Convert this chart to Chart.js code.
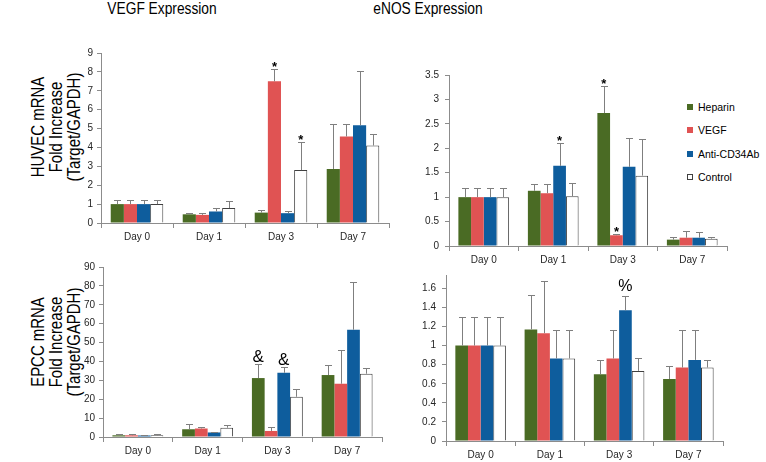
<!DOCTYPE html>
<html><head><meta charset="utf-8">
<script src="https://cdn.jsdelivr.net/npm/chart.js@4"></script>
<style>
html,body{margin:0;padding:0;background:#fff;overflow:hidden;width:766px;height:462px;position:relative;}
canvas{position:absolute;}
.t{position:absolute;font-family:'Liberation Sans',Arial,sans-serif;color:#000;white-space:nowrap;}
.title{font-size:16px;line-height:18px;top:0;transform:translateX(-50%) scaleX(0.86);}
.ylab{font-size:18px;line-height:18px;width:200px;text-align:center;transform:translate(-50%,-50%) rotate(-90deg) scaleX(0.83);}
.leg{position:absolute;font-family:'Liberation Sans',Arial,sans-serif;font-size:10.5px;color:#000;line-height:12px;}
.leg span{display:inline-block;width:6px;height:6px;margin-right:5px;vertical-align:1px;box-sizing:border-box;}
</style>
</head><body>
<div class="t title" style="left:162px">VEGF Expression</div>
<div class="t title" style="left:428px">eNOS Expression</div>
<div class="t ylab" style="left:56px;top:127px">HUVEC mRNA<br>Fold Increase<br>(Target/GAPDH)</div>
<div class="t ylab" style="left:56px;top:342px">EPCC mRNA<br>Fold Increase<br>(Target/GAPDH)</div>
<div id="legend"></div>
<canvas id="c1" width="345" height="213" style="left:55px;top:40px"></canvas>
<canvas id="c2" width="360" height="216" style="left:405px;top:60px"></canvas>
<canvas id="c3" width="340" height="207" style="left:55px;top:255px"></canvas>
<canvas id="c4" width="360" height="200" style="left:405px;top:262px"></canvas>
<script>
// ---- data ----
const categories = ['Day 0', 'Day 1', 'Day 3', 'Day 7'];
const seriesNames = ['Heparin', 'VEGF', 'Anti-CD34Ab', 'Control'];

// HUVEC mRNA - VEGF expression
const huvecVegfHeparin    = [1.0, 0.46, 0.55, 2.86];
const huvecVegfHeparinErr = [1.22, 0.54, 0.70, 5.23];
const huvecVegfVegf       = [1.0, 0.43, 7.50, 4.58];
const huvecVegfVegfErr    = [1.22, 0.54, 8.15, 5.23];
const huvecVegfAnti       = [1.0, 0.61, 0.52, 5.17];
const huvecVegfAntiErr    = [1.22, 0.80, 0.61, 8.03];
const huvecVegfControl    = [1.0, 0.79, 2.80, 4.10];
const huvecVegfControlErr = [1.22, 1.19, 4.28, 4.70];

// HUVEC mRNA - eNOS expression
const huvecEnosHeparin    = [1.0, 1.13, 2.72, 0.13];
const huvecEnosHeparinErr = [1.19, 1.26, 3.27, 0.19];
const huvecEnosVegf       = [1.0, 1.08, 0.22, 0.17];
const huvecEnosVegfErr    = [1.19, 1.26, 0.25, 0.30];
const huvecEnosAnti       = [1.0, 1.64, 1.62, 0.17];
const huvecEnosAntiErr    = [1.19, 2.11, 2.22, 0.29];
const huvecEnosControl    = [1.0, 1.02, 1.44, 0.15];
const huvecEnosControlErr = [1.19, 1.28, 2.20, 0.18];

// EPCC mRNA - VEGF expression
const epccVegfHeparin    = [0.9, 4.1, 31.2, 32.8];
const epccVegfHeparinErr = [1.4, 6.7, 38.6, 38.1];
const epccVegfVegf       = [0.9, 4.5, 3.2, 28.2];
const epccVegfVegfErr    = [1.4, 5.5, 5.3, 45.9];
const epccVegfAnti       = [0.8, 2.4, 34.0, 56.8];
const epccVegfAntiErr    = [1.3, 2.6, 37.2, 82.0];
const epccVegfControl    = [0.9, 4.9, 21.3, 33.5];
const epccVegfControlErr = [1.4, 6.2, 25.4, 36.5];

// EPCC mRNA - eNOS expression
const epccEnosHeparin    = [1.0, 1.17, 0.70, 0.65];
const epccEnosHeparinErr = [1.30, 1.53, 0.85, 0.785];
const epccEnosVegf       = [1.0, 1.13, 0.865, 0.77];
const epccEnosVegfErr    = [1.30, 1.68, 1.16, 1.16];
const epccEnosAnti       = [1.0, 0.865, 1.37, 0.85];
const epccEnosAntiErr    = [1.30, 1.16, 1.52, 1.16];
const epccEnosControl    = [1.0, 0.865, 0.735, 0.77];
const epccEnosControlErr = [1.30, 1.165, 0.87, 0.845];

// significance marks: [series index, category index, symbol]
const marksHuvecVegf = [[1, 2, '*'], [3, 2, '*']];
const marksHuvecEnos = [[2, 1, '*'], [0, 2, '*'], [1, 2, '*']];
const marksEpccVegf  = [[0, 2, '&'], [2, 2, '&']];
const marksEpccEnos  = [[2, 2, '%']];

// y-axis ticks
const ticksHuvecVegf = {max: 9, step: 1};
const ticksHuvecEnos = {max: 3.5, step: 0.5};
const ticksEpccVegf  = {max: 90, step: 10};
const ticksEpccEnos  = {max: 1.74, step: 0.2};

// ---- styles ----
const fills   = ['#4A6B24', '#E05353', '#0E5D9D', '#FFFFFF'];
const borders = ['#4A6B24', '#E05353', '#0E5D9D', '#404040'];
const FONT = "'Liberation Sans', Arial, sans-serif";

const errPlugin = {
  id: 'errbars',
  afterDatasetsDraw(chart) {
    const ctx = chart.ctx, ys = chart.scales.y;
    ctx.save();
    ctx.strokeStyle = '#7F7F7F';
    ctx.lineWidth = 1;
    chart.data.datasets.forEach((ds, di) => {
      const meta = chart.getDatasetMeta(di);
      ds.errTop.forEach((e, i) => {
        const bar = meta.data[i];
        const x = Math.round(bar.x) + 0.5;
        const y0 = ys.getPixelForValue(ds.data[i]);
        const y1 = Math.round(ys.getPixelForValue(e)) + 0.5;
        ctx.beginPath();
        ctx.moveTo(x, y0); ctx.lineTo(x, y1);
        ctx.moveTo(x - 3.5, y1); ctx.lineTo(x + 3.5, y1);
        ctx.stroke();
      });
    });
    const marks = chart.options.plugins.errbars.marks || [];
    ctx.fillStyle = '#000';
    ctx.textAlign = 'center';
    ctx.textBaseline = 'alphabetic';
    marks.forEach(([di, ci, sym]) => {
      const ds = chart.data.datasets[di];
      const bar = chart.getDatasetMeta(di).data[ci];
      const yTop = ys.getPixelForValue(ds.errTop[ci]);
      if (sym === '*') { ctx.font = 'bold 13px ' + FONT; ctx.fillText(sym, bar.x, yTop + 2); }
      else if (sym === '&') { ctx.font = '17px ' + FONT; ctx.fillText(sym, bar.x, yTop - 2); }
      else { ctx.font = '16px ' + FONT; ctx.fillText(sym, bar.x, yTop - 5); }
    });
    ctx.restore();
  }
};

function fmt(v) { return String(+v.toFixed(2)); }

function makeChart(id, series, errs, marks, tk, layout) {
  const datasets = series.map((d, k) => ({
    label: seriesNames[k],
    data: d,
    errTop: errs[k],
    backgroundColor: fills[k],
    borderColor: borders[k],
    borderWidth: k === 3 ? 1 : 0,
    categoryPercentage: 0.73,
    barPercentage: 1.0
  }));
  return new Chart(document.getElementById(id), {
    type: 'bar',
    data: {labels: categories, datasets},
    plugins: [errPlugin],
    options: {
      responsive: false, animation: false, devicePixelRatio: 1,
      layout: {padding: layout.pad},
      plugins: {legend: {display: false}, tooltip: {enabled: false}, errbars: {marks}},
      scales: {
        x: {
          type: 'category', offset: true,
          grid: {offset: true, drawOnChartArea: false, tickLength: 5, color: '#8C8C8C'},
          border: {color: '#8C8C8C'},
          ticks: {padding: 3, font: {family: FONT, size: 10}, color: '#262626', maxRotation: 0},
          afterFit: s => { s.height = layout.xh; }
        },
        y: {
          min: 0, max: tk.max,
          grid: {drawOnChartArea: false, tickLength: 4, color: '#8C8C8C'},
          border: {color: '#8C8C8C'},
          ticks: {stepSize: tk.step, padding: layout.yp, font: {family: FONT, size: 10}, color: '#262626', callback: v => fmt(v)},
          afterBuildTicks: s => {
            s.ticks = s.ticks.filter(t => Math.abs(t.value / tk.step - Math.round(t.value / tk.step)) < 1e-6);
          },
          afterFit: s => { s.width = layout.yw; }
        }
      }
    }
  });
}

makeChart('c1',
  [huvecVegfHeparin, huvecVegfVegf, huvecVegfAnti, huvecVegfControl],
  [huvecVegfHeparinErr, huvecVegfVegfErr, huvecVegfAntiErr, huvecVegfControlErr],
  marksHuvecVegf, ticksHuvecVegf,
  {pad: {top: 13, right: 11, left: 0, bottom: 0}, xh: 30, yw: 46, yp: 4});

makeChart('c2',
  [huvecEnosHeparin, huvecEnosVegf, huvecEnosAnti, huvecEnosControl],
  [huvecEnosHeparinErr, huvecEnosVegfErr, huvecEnosAntiErr, huvecEnosControlErr],
  marksHuvecEnos, ticksHuvecEnos,
  {pad: {top: 15, right: 38, left: 0, bottom: 0}, xh: 30, yw: 44, yp: 6});

makeChart('c3',
  [epccVegfHeparin, epccVegfVegf, epccVegfAnti, epccVegfControl],
  [epccVegfHeparinErr, epccVegfVegfErr, epccVegfAntiErr, epccVegfControlErr],
  marksEpccVegf, ticksEpccVegf,
  {pad: {top: 12, right: 13, left: 0, bottom: 0}, xh: 25, yw: 48, yp: 4});

makeChart('c4',
  [epccEnosHeparin, epccEnosVegf, epccEnosAnti, epccEnosControl],
  [epccEnosHeparinErr, epccEnosVegfErr, epccEnosAntiErr, epccEnosControlErr],
  marksEpccEnos, ticksEpccEnos,
  {pad: {top: 13, right: 42, left: 0, bottom: 0}, xh: 21, yw: 41, yp: 6});

// legend (HTML)
const legY = [101, 124, 148, 171];
const leg = document.getElementById('legend');
seriesNames.forEach((n, k) => {
  const d = document.createElement('div');
  d.className = 'leg';
  d.style.left = '687px';
  d.style.top = legY[k] + 'px';
  const sw = document.createElement('span');
  sw.style.background = fills[k];
  if (k === 3) sw.style.border = '1px solid #404040';
  d.appendChild(sw);
  d.appendChild(document.createTextNode(n));
  leg.appendChild(d);
});
</script>
</body></html>
